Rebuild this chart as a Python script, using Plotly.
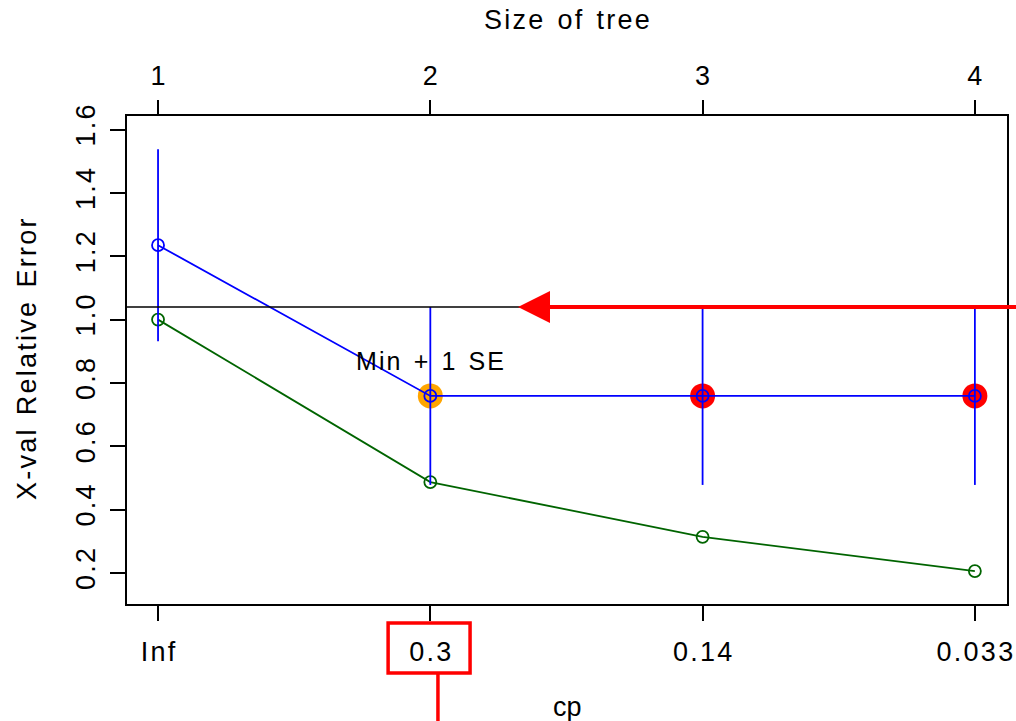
import plotly.graph_objects as go

# ---- data ----
tree_size = [1, 2, 3, 4]
cp_labels = ["Inf", "0.3", "0.14", "0.033"]
rel_error = [1.0, 0.487, 0.314, 0.206]
xerror = [1.235, 0.759, 0.759, 0.759]
xstd = [0.303, 0.281, 0.281, 0.281]
min_plus_1se = 1.040
y_ticks = [0.2, 0.4, 0.6, 0.8, 1.0, 1.2, 1.4, 1.6]
highlight_colors = ["rgba(0,0,0,0)", "orange", "red", "red"]
selected_size = 2

FONT = "Liberation Sans"
FS = 27
W, H = 1016, 721
L, R, T, B = 127, 9, 116, 117


def spaced(s):
    """Imitate the wide letter spacing of the original device font."""
    out = []
    for ch in s:
        out.append("\u00a0\u200a" if ch == " " else ch)
    return "\u200a".join(out)


fig = go.Figure()

# highlight discs
fig.add_trace(go.Scatter(
    x=tree_size, y=xerror, mode="markers",
    marker=dict(size=25, color=highlight_colors, line=dict(width=0)),
    hoverinfo="skip", showlegend=False, cliponaxis=False))

# green training relative error
fig.add_trace(go.Scatter(
    x=tree_size, y=rel_error, mode="lines+markers",
    line=dict(color="#006400", width=1.8),
    marker=dict(symbol="circle-open", size=12, color="#006400", line=dict(width=1.8)),
    showlegend=False))

# blue cross-validated error with error bars
fig.add_trace(go.Scatter(
    x=tree_size, y=xerror, mode="lines+markers",
    line=dict(color="#0000FF", width=1.8),
    marker=dict(symbol="circle-open", size=12, color="#0000FF", line=dict(width=1.8)),
    error_y=dict(type="data", array=xstd, visible=True, color="#0000FF",
                 thickness=1.8, width=0),
    showlegend=False))

# dummy trace for top axis
fig.add_trace(go.Scatter(x=tree_size, y=xerror, xaxis="x2", mode="markers",
                         marker=dict(opacity=0), hoverinfo="skip", showlegend=False))

# min + 1 SE line
fig.add_shape(type="line", xref="paper", x0=0, x1=1, yref="y",
              y0=min_plus_1se, y1=min_plus_1se, line=dict(color="black", width=1.5))

fig.add_annotation(x=selected_size, y=0.87, xref="x", yref="y", text=spaced("Min + 1 SE"),
                   showarrow=False, font=dict(family=FONT, size=FS - 2, color="black"))

# red arrow pointing to the 1-SE line
fig.add_annotation(x=2.322, y=min_plus_1se, xref="x", yref="y",
                   ax=4.16, ay=min_plus_1se, axref="x", ayref="y",
                   showarrow=True, arrowhead=2, arrowsize=1.6, arrowwidth=4,
                   arrowcolor="red", text="")

# red box around selected cp label and pointer line
fig.add_shape(type="rect", xref="x", yref="paper",
              x0=selected_size - 0.155, x1=selected_size + 0.146,
              y0=-0.1414, y1=-0.0389, line=dict(color="red", width=3.5))
fig.add_shape(type="line", xref="x", yref="paper",
              x0=selected_size + 0.028, x1=selected_size + 0.028,
              y0=-0.1414, y1=-0.26, line=dict(color="red", width=3.5))

axis_common = dict(showgrid=False, zeroline=False, ticks="outside", ticklen=15,
                   tickwidth=1.5, tickcolor="black", automargin=False,
                   tickfont=dict(family=FONT, size=FS, color="black"))

fig.update_layout(
    width=W, height=H,
    margin=dict(l=L, r=R, t=T, b=B, autoexpand=False),
    paper_bgcolor="white", plot_bgcolor="white",
    font=dict(family=FONT, color="black"),
    xaxis=dict(range=[0.886, 4.118], tickmode="array", tickvals=tree_size,
               ticktext=[spaced(t) for t in cp_labels], showline=True,
               linecolor="black", linewidth=1.5,
               mirror=True, ticklabelstandoff=8, **axis_common),
    xaxis2=dict(range=[0.886, 4.118], overlaying="x", side="top", tickmode="array",
                tickvals=tree_size, ticktext=[str(s) for s in tree_size],
                showline=False, ticklabelstandoff=4, **axis_common),
    yaxis=dict(range=[0.102, 1.643], tickmode="array", tickvals=y_ticks,
               ticktext=[spaced(f"{v:.1f}") for v in y_ticks], tickangle=-90,
               showline=True, linecolor="black", linewidth=1.5, mirror=True,
               ticklabelstandoff=4, **axis_common),
)

plot_h = H - T - B
fig.add_annotation(x=0.5, y=-(707 - (H - B)) / plot_h,
                   xref="paper", yref="paper", yanchor="middle",
                   text="cp", showarrow=False, font=dict(family=FONT, size=FS))
fig.add_annotation(x=0.5, y=(H - B - 20) / plot_h, xref="paper", yref="paper",
                   text=spaced("Size of tree"), showarrow=False,
                   font=dict(family=FONT, size=FS), yanchor="middle")
fig.add_annotation(x=-(127 - 27) / (W - L - R), y=(H - B - 360) / plot_h,
                   xref="paper", yref="paper",
                   text=spaced("X-val Relative Error"), showarrow=False, textangle=-90,
                   font=dict(family=FONT, size=FS), xanchor="center", yanchor="middle")

fig.write_html("out.html")
